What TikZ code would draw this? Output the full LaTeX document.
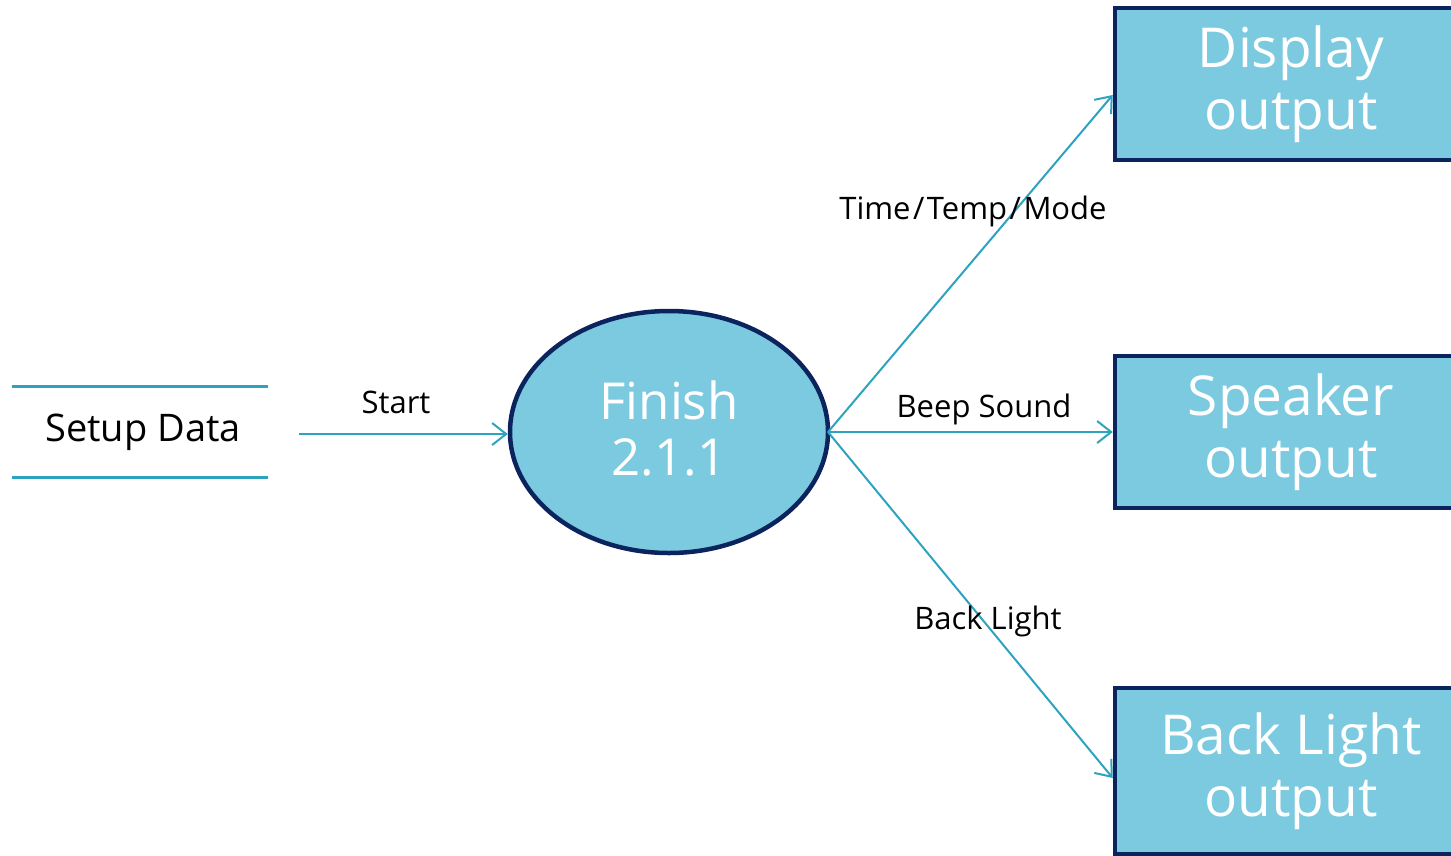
\documentclass[tikz,border=0pt]{standalone}
\usepackage{fontspec}
\setmainfont{Open Sans}
\usetikzlibrary{arrows.meta,shapes.geometric}
\definecolor{boxfill}{RGB}{123,202,224}
\definecolor{boxline}{RGB}{12,36,94}
\definecolor{flow}{RGB}{46,163,192}
\tikzset{
  outbox/.style={draw=boxline, line width=4.5pt, fill=boxfill, rectangle, minimum width=352pt, minimum height=152pt, text=white, align=center, font=\fontsize{55}{62}\selectfont, inner sep=0pt},
  proc/.style={draw=boxline, line width=4.5pt, fill=boxfill, ellipse, minimum width=318pt, minimum height=242pt, inner sep=0pt},
  proctext/.style={text=white, align=center, font=\fontsize{51}{56}\selectfont, inner sep=0pt},
  flowline/.style={draw=flow, line width=2pt, -{Straight Barb[length=14pt,width=22pt,line width=2pt]}},
  lbl/.style={font=\fontsize{31}{34}\selectfont, text=black, inner sep=0pt},
  storeline/.style={draw=flow, line width=3pt},
}
\newcommand{\slsh}{\kern2.5pt/\kern2.5pt}
\begin{document}
\begin{tikzpicture}[x=1pt,y=-1pt]
\clip (0,0) rectangle (1451,855);
\fill[white] (0,0) rectangle (1451,855);
% data store
\coordinate (s1) at (12,386);
\coordinate (s2) at (268,386);
\coordinate (s3) at (12,477);
\coordinate (s4) at (268,477);
\draw[storeline] (s1) -- (s2);
\draw[storeline] (s3) -- (s4);
\node[font=\fontsize{38}{44}\selectfont, inner sep=0pt] (setup) at (143,432) {Setup Data};
\coordinate (startin) at (299,434);
% process
\node[proc] (fin) at (669,432) {};
\node[proctext] (fintxt) at (669,428) {Finish\\2.1.1};
% outputs
\node[outbox] (disp) at (1291,84) {Display\\output};
\node[outbox] (spk) at (1291,432) {Speaker\\output};
\node[outbox, minimum height=166pt] (bl) at (1291,771) {Back Light\\output};
% flows
\draw[flowline] (startin) -- (startin -| fin.west);
\node[lbl] (lstart) at (396,402) {Start};
\coordinate (o) at (828,432);
\draw[flowline] (o) -- (disp.west |- 0,95);
\draw[flowline] (o) -- (spk.west);
\draw[flowline] (o) -- (bl.west |- 0,778);
\node[lbl] (ltime) at (973,211) {Time\slsh Temp\slsh Mode};
\node[lbl] (lbeep) at (984,409) {Beep Sound};
\node[lbl] (lback) at (988,621) {Back Light};
\end{tikzpicture}
\end{document}
